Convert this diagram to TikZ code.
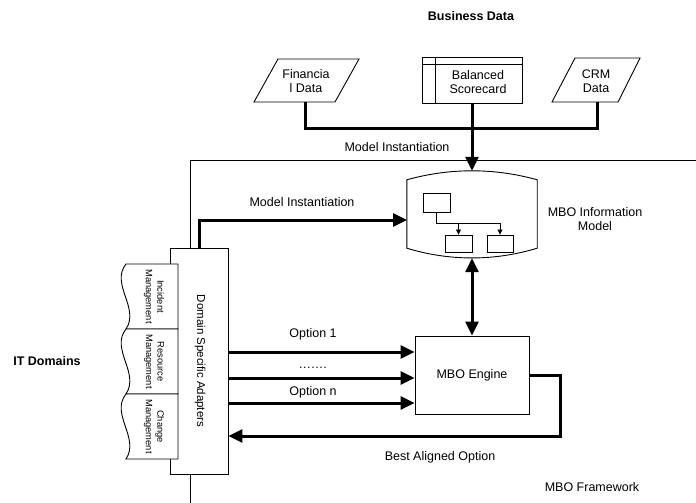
\documentclass[tikz,border=0pt]{standalone}
\usepackage{fontspec}
\setmainfont{Liberation Sans}
\usetikzlibrary{positioning, shapes, arrows, arrows.meta, shapes.geometric, calc}
\tikzset{>={Triangle[length=14pt,width=13pt]}}
\tikzset{
    lbl/.style={font=\fontsize{12.5}{14}\selectfont, align=center},
    heading/.style={font=\fontsize{12.5}{14}\selectfont\bfseries},
    doclbl/.style={font=\fontsize{9.3}{11.5}\selectfont, align=center},
    flow/.style={line width=3pt},
    outline/.style={line width=0.9pt},
    smalltip/.style={-{Triangle[length=5pt,width=5pt]}, line width=0.8pt},
}

\begin{document}
\begin{tikzpicture}[x=1pt, y=-1pt]
    \useasboundingbox (0,0) rectangle (696,503);

    % framework border
    \draw[outline] (190,503) -- (190,160) -- (696,160);

    \node[heading] (bizdata) at (471,16) {Business Data};
    \node[heading] (itdom) at (47,361) {IT Domains};
    \node[lbl] (mbofw) at (592,487) {MBO Framework};

    % business data sources
    \draw[outline] (278,59) -- (359,59) -- (335,102) -- (254,102) -- cycle;
    \node[lbl] (fin) at (306,81) {Financia\\l Data};
    \draw[outline] (575,58) -- (640,58) -- (618,102) -- (552,102) -- cycle;
    \node[lbl] (crm) at (596,81) {CRM\\Data};
    \node[draw, outline, minimum width=100pt, minimum height=46pt, inner sep=0pt] (bsc) at (472,80) {};
    \draw[outline]
    ($(bsc.north west)+(14,0)$) -- ($(bsc.south west)+(14,0)$)
    ($(bsc.north west)+(0,8)$) -- ($(bsc.north east)+(0,8)$)
    ;
    \node[lbl] (bsctext) at (478,82) {Balanced\\Scorecard};
    \coordinate (finb) at (305,102);
    \coordinate (crmb) at (597,102);

    % information model
    \path node[minimum width=130pt, minimum height=87pt, inner sep=0pt] (info) at (472,214.5) {};
    \draw[outline, fill=white]
    ($(info.north west)+(0,9)$) .. controls ($(info.north west)+(43,-3)$) and ($(info.north east)+(-43,-3)$) .. ($(info.north east)+(0,9)$)
    -- ($(info.south east)+(0,-10)$) .. controls ($(info.south east)+(-43,3)$) and ($(info.south west)+(43,3)$) .. ($(info.south west)+(0,-10)$)
    -- cycle
    ;
    \node[draw, outline, minimum width=27pt, minimum height=19pt, inner sep=0pt] (cls) at (436.5,202.5) {};
    \node[draw, outline, minimum width=27pt, minimum height=17pt, inner sep=0pt] (sub1) at (458.5,243.5) {};
    \node[draw, outline, minimum width=26pt, minimum height=17pt, inner sep=0pt] (sub2) at (500,243.5) {};
    \draw[smalltip] (cls.south) -- ++(0,10.5) coordinate (split) -| (sub2.north);
    \draw[smalltip] (split -| sub1.north) -- (sub1.north);
    \node[lbl] (infolbl) at (595,219) {MBO Information\\Model};
    \coordinate (infoin) at (407,220);

    \draw[flow] (finb) -- ++(0,26) -| (crmb);
    \draw[flow, ->] (bsc.south) -- (info.north);
    \node[lbl] (mi1) at (397,147) {Model Instantiation};

    % adapters and it domains
    \node[draw, outline, fill=white, minimum width=58pt, minimum height=226pt] (dsa) at (199,361) {};
    \node[rotate=-90, font=\fontsize{11.5}{13}\selectfont] (dsatext) at (200,361) {Domain Specific Adapters};
    \foreach \name/\ytop in {Incident/264, Resource/329, Change/394} {
        \draw[outline, fill=white] (126,\ytop) -- (178,\ytop) -- (178,{\ytop+65}) -- (126,{\ytop+65})
        .. controls (140,{\ytop+44}) and (110,{\ytop+20}) .. (126,\ytop) -- cycle;
        \node[doclbl, rotate=-90] (doc\name) at (154,{\ytop+32.5}) {\name\\Management};
    }

    \draw[flow, ->] (dsa.north) |- (infoin);
    \node[lbl] (mi2) at (302,202) {Model Instantiation};

    % engine
    \node[draw, outline, fill=white, minimum width=114pt, minimum height=78pt, lbl] (engine) at (472,375) {MBO Engine};
    \draw[flow, <->] (info.south) -- (engine.north);

    \foreach \yy [count=\k] in {352,378,403} {
        \coordinate (opt\k) at (0,\yy);
        \draw[flow, ->] (dsa.east |- opt\k) -- (engine.west |- opt\k);
    }
    \node[lbl] (optfirst) at (313,334) {Option 1};
    \node[lbl] (optdots) at (313,368) {.\kern.6pt.\kern.6pt.\kern.6pt.\kern.6pt.\kern.6pt.\kern.6pt.};
    \node[lbl] (optlast) at (313,392) {Option n};

    \coordinate (back) at (0,436);
    \draw[flow, ->] (engine.east) -- ++(31,0) |- (dsa.east |- back);
    \node[lbl] (best) at (440,457) {Best Aligned Option};
    %\node[lbl] at (440,470) {};

\end{tikzpicture}
\end{document}
